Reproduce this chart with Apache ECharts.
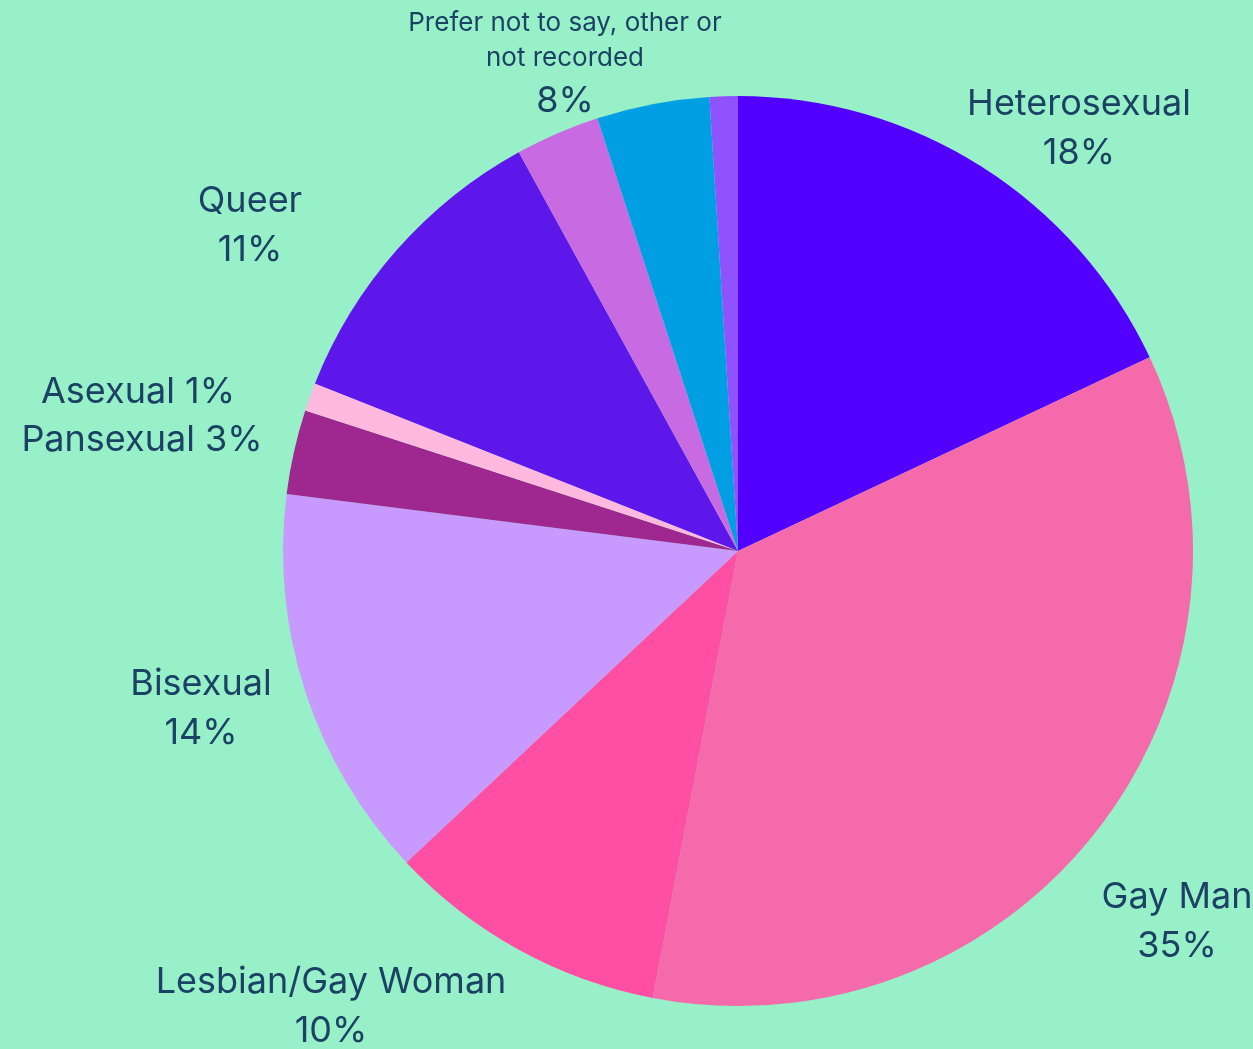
<!DOCTYPE html>
<html>
<head>
<meta charset="utf-8">
<script src="https://cdn.jsdelivr.net/npm/echarts@6/dist/echarts.min.js"></script>
<style>
html,body{margin:0;padding:0;background:#98F0C8;}
#chart{width:1253px;height:1049px;}
</style>
</head>
<body>
<div id="chart"></div>
<script>
// Data
var categories = ['Heterosexual','Gay Man','Lesbian/Gay Woman','Bisexual','Pansexual','Asexual','Queer','Prefer not to say','Other','Not recorded'];
var values = [18, 35, 10, 14, 3, 1, 11, 3, 4, 1];
var groupedLabel = 'Prefer not to say, other or\nnot recorded';
var groupedIdx = [7, 8, 9];

// Styles
var colors = ['#5200FF','#F46AAA','#FF4FA4','#C899FF','#9E2890','#FFB8DE','#5E17EB','#C86BE2','#009FE3','#9052FF'];
var labelPos = {
  0: [1079, 129, 'middle'],
  1: [1177, 922, 'middle'],
  2: [331, 1007, 'middle'],
  3: [201, 709, 'middle'],
  4: [142, 440, 'middle'],
  5: [138, 392, 'middle'],
  6: [250, 226, 'middle'],
  8: [565, 6, 'top']
};
var inlineIdx = [4, 5];

var chart = echarts.init(document.getElementById('chart'), null, {renderer: 'canvas'});
var txt = '#1B4264';
var ff = 'Inter, "Noto Sans", sans-serif';
var data = categories.map(function (c, i) {
  var d = {name: c, value: values[i], itemStyle: {color: colors[i]}};
  if (i === 7 || i === 9) d.label = {show: false};
  return d;
});
var groupedSum = groupedIdx.reduce(function (s, i) { return s + values[i]; }, 0);

chart.setOption({
  backgroundColor: '#98F0C8',
  animation: false,
  series: [{
    type: 'pie',
    center: [738, 551],
    radius: [0, 455],
    startAngle: 90,
    clockwise: true,
    avoidLabelOverlap: false,
    data: data,
    labelLine: {show: false},
    label: {
      show: true,
      position: 'outside',
      color: txt,
      fontFamily: ff,
      fontSize: 36,
      lineHeight: 49,
      formatter: function (p) {
        if (p.dataIndex === 8) {
          return '{s|' + groupedLabel.split('\n').join('}\n{s|') + '}\n{b|' + groupedSum + '%}';
        }
        if (inlineIdx.indexOf(p.dataIndex) >= 0) return p.name + ' ' + values[p.dataIndex] + '%';
        return p.name + '\n' + values[p.dataIndex] + '%';
      },
      rich: {
        s: {fontSize: 26, lineHeight: 35, color: txt, fontFamily: ff, align: 'center'},
        b: {fontSize: 36, lineHeight: 51, color: txt, fontFamily: ff, align: 'center'}
      }
    },
    labelLayout: function (p) {
      var pos = labelPos[p.dataIndex];
      if (!pos) return {};
      return {x: pos[0], y: pos[1], align: 'center', verticalAlign: pos[2]};
    }
  }]
});
</script>
</body>
</html>
